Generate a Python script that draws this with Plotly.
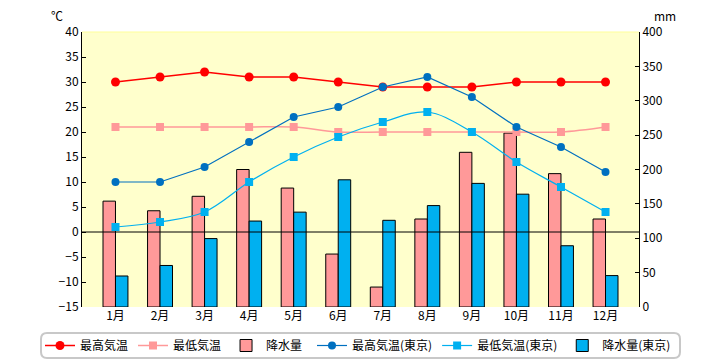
import plotly.graph_objects as go

months = ["1月", "2月", "3月", "4月", "5月", "6月", "7月", "8月", "9月", "10月", "11月", "12月"]
max_temp = [30, 31, 32, 31, 31, 30, 29, 29, 29, 30, 30, 30]
min_temp = [21, 21, 21, 21, 21, 20, 20, 20, 20, 20, 20, 21]
rain = [154, 140, 161, 200, 173, 77, 29, 128, 225, 253, 194, 128]
max_temp_tokyo = [10, 10, 13, 18, 23, 25, 29, 31, 27, 21, 17, 12]
min_temp_tokyo = [1, 2, 4, 10, 15, 19, 22, 24, 20, 14, 9, 4]
rain_tokyo = [45.1, 60.4, 99.5, 125.0, 138.0, 185.0, 126.1, 147.5, 179.8, 164.1, 89.1, 45.7]

temp_ticks = list(range(-15, 41, 5))
rain_ticks = list(range(0, 401, 50))

FONT = "Noto Sans CJK JP"

fig = go.Figure()

fig.add_trace(go.Scatter(x=months, y=max_temp, name="最高気温", yaxis="y2", legend="legend",
                         mode="lines+markers", line=dict(color="#FF0000", width=1.5),
                         marker=dict(symbol="circle", size=9, color="#FF0000")))
fig.add_trace(go.Scatter(x=months, y=min_temp, name="最低気温", yaxis="y2", legend="legend",
                         mode="lines+markers", line=dict(color="#FF9999", width=1.5, shape="spline"),
                         marker=dict(symbol="square", size=8, color="#FF9999")))
fig.add_trace(go.Bar(x=months, y=rain, name="降水量", yaxis="y", legend="legend",
                     marker=dict(color="#FF9999", line=dict(color="#000000", width=1))))
fig.add_trace(go.Scatter(x=months, y=max_temp_tokyo, name="最高気温(東京)", yaxis="y2", legend="legend2",
                         mode="lines+markers", line=dict(color="#0070C0", width=1.2),
                         marker=dict(symbol="circle", size=8, color="#0070C0")))
fig.add_trace(go.Scatter(x=months, y=min_temp_tokyo, name="最低気温(東京)", yaxis="y2", legend="legend2",
                         mode="lines+markers", line=dict(color="#00B0F0", width=1.2, shape="spline"),
                         marker=dict(symbol="square", size=8, color="#00B0F0")))
fig.add_trace(go.Bar(x=months, y=rain_tokyo, name="降水量(東京)", yaxis="y", legend="legend2",
                     marker=dict(color="#00B0F0", line=dict(color="#000000", width=1))))

# Figure is placed at an 8px page offset; pixel math below uses page pixels.
W, H = 557.0, 275.0
def px(p):
    return (p - 82) / W
def py(p):
    return (307 - p) / H

x0, x1 = px(41), px(680)
y0, y1 = py(358), py(333)
rx, ry = 6 / W, 6 / H
path = (f"M {x0+rx} {y1} L {x1-rx} {y1} Q {x1} {y1} {x1} {y1-ry} "
        f"L {x1} {y0+ry} Q {x1} {y0} {x1-rx} {y0} L {x0+rx} {y0} "
        f"Q {x0} {y0} {x0} {y0+ry} L {x0} {y1-ry} Q {x0} {y1} {x0+rx} {y1} Z")

legend_common = dict(orientation="h", xanchor="left", y=py(345.5), yanchor="middle",
                     font=dict(family=FONT, size=12), bgcolor="rgba(0,0,0,0)",
                     traceorder="normal", itemwidth=30)

fig.update_layout(
    width=712, height=352,
    margin=dict(l=74, r=81, t=24, b=53, autoexpand=False),
    paper_bgcolor="#FFFFFF", plot_bgcolor="#FFFFCC",
    font=dict(family=FONT, size=12, color="#000000"),
    barmode="group", bargap=0.44, bargroupgap=0,
    showlegend=True,
    legend=dict(x=px(40), **legend_common),
    legend2=dict(x=px(312), **legend_common),
    xaxis=dict(showline=False, ticks="", showgrid=False, tickfont=dict(size=12)),
    yaxis=dict(side="right", range=[0, 400], tickvals=rain_ticks, ticks="inside", ticklen=4,
               tickcolor="#000000", showline=True, linecolor="#000000", linewidth=1,
               showgrid=False, zeroline=False, tickfont=dict(size=12)),
    yaxis2=dict(side="left", overlaying="y", range=[-15, 40], tickvals=temp_ticks, ticks="inside",
                ticklen=4, tickcolor="#000000", showline=True, linecolor="#000000", linewidth=1,
                showgrid=False, zeroline=False, tickfont=dict(size=12)),
    shapes=[
        dict(type="line", xref="paper", yref="y2", x0=0, x1=1, y0=0, y1=0,
             line=dict(color="#000000", width=1), layer="above"),
        dict(type="line", xref="paper", yref="paper", x0=0, x1=1, y0=1, y1=1,
             line=dict(color="#FFFF99", width=1), layer="above"),
        dict(type="path", xref="paper", yref="paper", path=path,
             line=dict(color="#C8C8C8", width=2), fillcolor="rgba(0,0,0,0)"),
    ],
    annotations=[
        dict(text="℃", xref="paper", yref="paper", x=px(57), y=py(15),
             showarrow=False, font=dict(size=12), xanchor="center", yanchor="middle"),
        dict(text="mm", xref="paper", yref="paper", x=px(665), y=py(15),
             showarrow=False, font=dict(size=12), xanchor="center", yanchor="middle"),
    ],
)

fig.write_html("out.html")
